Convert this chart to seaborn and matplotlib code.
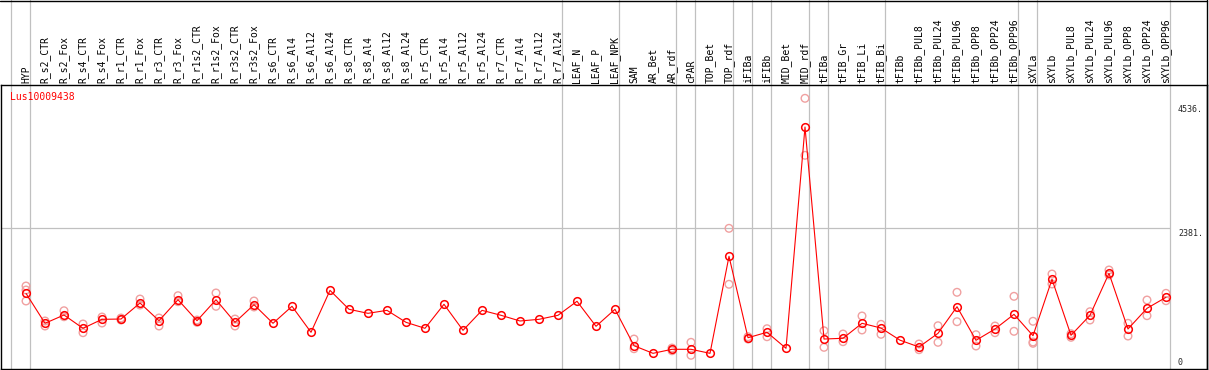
import numpy as np
import pandas as pd
import matplotlib
matplotlib.use("Agg")
import matplotlib.pyplot as plt
import seaborn as sns
from matplotlib.lines import Line2D
from matplotlib import transforms

# ---------------- data ----------------
samples = ["HYP", "R_s2_CTR", "R_s2_Fox", "R_s4_CTR", "R_s4_Fox", "R_r1_CTR", "R_r1_Fox",
           "R_r3_CTR", "R_r3_Fox", "R_r1s2_CTR", "R_r1s2_Fox", "R_r3s2_CTR", "R_r3s2_Fox",
           "R_s6_CTR", "R_s6_Al4", "R_s6_Al12", "R_s6_Al24", "R_s8_CTR", "R_s8_Al4",
           "R_s8_Al12", "R_s8_Al24", "R_r5_CTR", "R_r5_Al4", "R_r5_Al12", "R_r5_Al24",
           "R_r7_CTR", "R_r7_Al4", "R_r7_Al12", "R_r7_Al24", "LEAF_N", "LEAF_P", "LEAF_NPK",
           "SAM", "AR_Bet", "AR_rdf", "cPAR", "TOP_Bet", "TOP_rdf", "iFIBa", "iFIBb",
           "MID_Bet", "MID_rdf", "tFIBa", "tFIB_Gr", "tFIB_Li", "tFIB_Bi", "tFIBb",
           "tFIBb_PUL8", "tFIBb_PUL24", "tFIBb_PUL96", "tFIBb_OPP8", "tFIBb_OPP24",
           "tFIBb_OPP96", "sXYLa", "sXYLb", "sXYLb_PUL8", "sXYLb_PUL24", "sXYLb_PUL96",
           "sXYLb_OPP8", "sXYLb_OPP24", "sXYLb_OPP96"]

mean_expr = [1242, 722, 866, 635, 791, 796, 1074, 767, 1131, 767, 1131, 739, 1045,
             722, 1017, 566, 1294, 965, 895, 947, 739, 635, 1052, 600, 947,
             861, 762, 791, 861, 1104, 670, 965,
             333, 201, 271, 271, 201, 1884, 472, 566,
             288, 4128, 449, 462, 722, 640, 429,
             311, 548, 1010, 427, 623, 878,
             507, 1485, 514, 861, 1589, 623, 982, 1173]

nan = np.nan
rep_a = [1369, 762, 940, 710, 831, 814, 1143, 814, 1201, 779, 1248, 796, 1109,
         nan, nan, nan, nan, nan, nan, nan, nan, nan, nan, nan, nan,
         nan, nan, nan, nan, nan, nan, nan,
         449, nan, 293, 392, nan, 2370, 489, 628,
         nan, 4626, 593, 536, 849, 704, nan,
         363, 680, 1260, 524, 675, 1190,
         757, 1577, 541, 923, 1647, 722, 1126, 1242]
rep_b = [1300, 675, 836, 559, 727, 779, 1039, 675, 1097, 739, 1017, 675, 1005,
         nan, nan, nan, nan, nan, nan, nan, nan, nan, nan, nan, nan,
         nan, nan, nan, nan, nan, nan, nan,
         281, nan, 246, 167, nan, 1399, 449, 489,
         nan, 3637, 305, 403, 606, 531, nan,
         264, 392, 750, 328, 559, 583,
         397, 1404, 479, 779, 1560, 501, 854, 1114]
rep_c = [1109, nan, nan, nan, nan, nan, nan, nan, nan, nan, nan, nan, nan,
         nan, nan, nan, nan, nan, nan, nan, nan, nan, nan, nan, nan,
         nan, nan, nan, nan, nan, nan, nan,
         nan, nan, nan, nan, nan, nan, nan, nan,
         nan, nan, nan, nan, nan, nan, nan,
         nan, nan, nan, nan, nan, nan,
         375, nan, nan, nan, nan, nan, nan, nan]

group_ends = ["HYP", "R_r7_Al24", "LEAF_NPK", "AR_rdf", "cPAR", "TOP_rdf", "iFIBa",
              "iFIBb", "MID_rdf", "tFIBa", "tFIB_Bi", "tFIBb_OPP96", "sXYLa", "sXYLb_OPP96"]
gene = "Lus10009438"
scale_labels = ["4536.", "2381.", "0"]
scale_values = [4536, 2381, 0]

# ---------------- figure ----------------
sns.set_style("white")
plt.rcParams["font.family"] = ["DejaVu Sans Mono", "DejaVu Sans"]

W_PX, H_PX = 1209, 370
fig = plt.figure(figsize=(W_PX / 100, H_PX / 100), dpi=100)
ax = fig.add_axes([1 / W_PX, 1 / H_PX, 1206 / W_PX, 284 / H_PX])

pos = np.arange(len(samples))
ax.set_xlim(-1.316, 62.158)
ax.set_ylim(-71, 4857)
ax.set_xticks([])
ax.set_yticks([])
for sp in ax.spines.values():
    sp.set_color("black")
    sp.set_linewidth(1.0)

grid_c = "#c0c0c0"
sep_pos = [-1] + [samples.index(n) for n in group_ends]
for p in sep_pos:
    ax.axvline(p + 0.23, ymin=0, ymax=1 + 85 / 284, color=grid_c, lw=0.9,
               clip_on=False, zorder=0)
ax.hlines(2381, xmin=-1.316, xmax=sep_pos[-1] + 0.23, color=grid_c, lw=0.9, zorder=0)

# replicates
rep_df = pd.DataFrame({"pos": np.tile(pos, 3),
                       "value": np.concatenate([rep_a, rep_b, rep_c])}).dropna()
sns.scatterplot(data=rep_df, x="pos", y="value", ax=ax, marker="o", s=30,
                facecolor="none", edgecolor="#f0a0a0", linewidth=1.0, zorder=2,
                legend=False)

# mean line
mean_df = pd.DataFrame({"pos": pos, "value": mean_expr})
sns.lineplot(data=mean_df, x="pos", y="value", ax=ax, color="red", lw=0.8,
             estimator=None, marker="o", markersize=5.5, markerfacecolor="none",
             markeredgecolor="red", markeredgewidth=1.1, zorder=3)
ax.set_xlabel("")
ax.set_ylabel("")

# header labels
tr_head = transforms.blended_transform_factory(ax.transData, ax.transAxes)
for i, s in enumerate(samples):
    ax.text(i, 1 + 2 / 284, s, rotation=90, ha="center", va="bottom", fontsize=7,
            transform=tr_head, clip_on=False, color="black")

# gene label
ax.text(9 / 1206, 1 - 7 / 284, gene, color="red", fontsize=7, ha="left", va="top",
        transform=ax.transAxes)

# scale labels
tr_scale = transforms.blended_transform_factory(ax.transAxes, ax.transData)
tr_scale_down = transforms.offset_copy(tr_scale, fig=fig, y=-1.5, units="dots")
for lab, v in zip(scale_labels, scale_values):
    if v == 0:
        ax.text(1177 / 1206, v, lab, fontsize=6, ha="left", va="baseline",
                transform=tr_scale)
    else:
        ax.text(1177 / 1206, v, lab, fontsize=6, ha="left", va="top",
                transform=tr_scale_down)

# outer border of header region
fig.add_artist(Line2D([0, 1207 / W_PX], [1 - 0.5 / H_PX] * 2, transform=fig.transFigure,
                      color="black", lw=1.0))
fig.add_artist(Line2D([1207 / W_PX] * 2, [1 / H_PX, 1], transform=fig.transFigure,
                      color="black", lw=1.0))

fig.savefig("out.png", dpi=100)
